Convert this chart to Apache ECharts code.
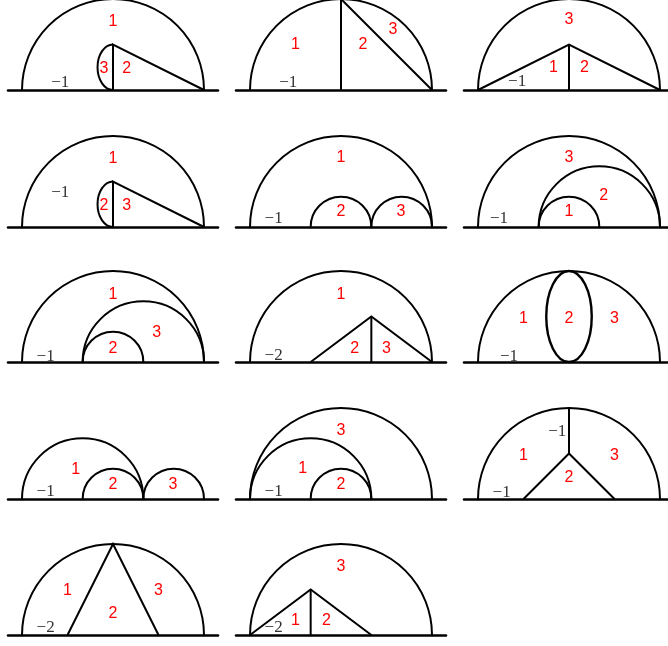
<!DOCTYPE html>
<html><head><meta charset="utf-8">
<script src="https://cdn.jsdelivr.net/npm/echarts@6/dist/echarts.min.js"></script>
<style>html,body{margin:0;padding:0;background:#fff;}#main{width:668px;height:646px;}</style>
</head><body><div id="main"></div>
<script>
// ---- data (unit: radius of the big semicircle = 1, baseline y = 0) ----
// upper semicircles: [panel, centerX, radius]
const semicircles = [
  [0,0,1],[1,0,1],[2,0,1],[3,0,1],
  [4,0,1],[4,0,1/3],[4,2/3,1/3],
  [5,0,1],[5,0,1/3],[5,1/3,2/3],
  [6,0,1],[6,0,1/3],[6,1/3,2/3],
  [7,0,1],[8,0,1],
  [9,-1/3,2/3],[9,0,1/3],[9,2/3,1/3],
  [10,0,1],[10,-1/3,2/3],[10,0,1/3],
  [11,0,1],[12,0,1],[13,0,1]
];
// left half ellipses: [panel, cx, cy, rx, ry]
const halfEllipses = [
  [0,0,0.25,0.17,0.25],
  [3,0,0.25,0.17,0.25]
];
// full ellipses: [panel, cx, cy, rx, ry]
const ellipses = [
  [8,0,0.5,0.25,0.5]
];
// polylines: [panel, points]
const polylines = [
  [0,[[0,0],[0,0.5],[1,0]]],
  [1,[[0,0],[0,1],[1,0]]],
  [2,[[-1,0],[0,0.5],[1,0]]],[2,[[0,0],[0,0.5]]],
  [3,[[0,0],[0,0.5],[1,0]]],
  [7,[[-1/3,0],[1/3,0.5],[1,0]]],[7,[[1/3,0],[1/3,0.5]]],
  [11,[[0,1],[0,0.5]]],[11,[[-0.5,0],[0,0.5],[0.5,0]]],
  [12,[[-0.5,0],[0,1],[0.5,0]]],
  [13,[[-1,0],[-1/3,0.5],[1/3,0]]],[13,[[-1/3,0],[-1/3,0.5]]]
];
// red region labels: [panel, text, x, y]
const regionLabels = [
  [0,'1',0,0.75],[0,'3',-0.1,0.24],[0,'2',0.15,0.24],
  [1,'1',-0.5,0.5],[1,'2',0.24,0.5],[1,'3',0.57,0.66],
  [2,'3',0,0.77],[2,'1',-0.17,0.25],[2,'2',0.17,0.25],
  [3,'1',0,0.75],[3,'2',-0.1,0.24],[3,'3',0.15,0.24],
  [4,'1',0,0.76],[4,'2',0,0.17],[4,'3',0.66,0.17],
  [5,'3',0,0.76],[5,'2',0.38,0.35],[5,'1',0,0.17],
  [6,'1',0,0.74],[6,'3',0.48,0.32],[6,'2',0,0.15],
  [7,'1',0,0.74],[7,'2',0.15,0.15],[7,'3',0.5,0.15],
  [8,'1',-0.5,0.48],[8,'2',0,0.48],[8,'3',0.5,0.48],
  [9,'1',-0.41,0.32],[9,'2',0,0.16],[9,'3',0.66,0.16],
  [10,'3',0,0.75],[10,'1',-0.42,0.33],[10,'2',0,0.16],
  [11,'1',-0.5,0.48],[11,'2',0,0.23],[11,'3',0.5,0.48],
  [12,'1',-0.5,0.49],[12,'2',0,0.24],[12,'3',0.5,0.49],
  [13,'3',0,0.75],[13,'1',-0.5,0.16],[13,'2',-0.16,0.16]
];
// weight labels: [panel, text, x, y]
const weightLabels = [
  [0,'\u22121',-0.58,0.08],[1,'\u22121',-0.58,0.08],[2,'\u22121',-0.57,0.09],
  [3,'\u22121',-0.58,0.38],[4,'\u22121',-0.74,0.09],[5,'\u22121',-0.77,0.09],
  [6,'\u22121',-0.74,0.06],[7,'\u22122',-0.74,0.07],[8,'\u22121',-0.66,0.06],
  [9,'\u22121',-0.74,0.08],[10,'\u22121',-0.74,0.08],
  [11,'\u22121',-0.13,0.74],[11,'\u22121',-0.74,0.07],
  [12,'\u22122',-0.74,0.08],[13,'\u22122',-0.74,0.08]
];

// ---- layout ----
const PANELS = 14;
const colCenters = [113, 341, 569];
const rowBaselines = [90, 227, 362, 499, 635];
const UNIT = 91;
const X_HALF = 1.154;

const chart = echarts.init(document.getElementById('main'), null, {renderer:'canvas'});
const grids = [], xAxes = [], yAxes = [], series = [];
const LINE = {fill:'none', stroke:'#000', lineWidth:2};

for (let p = 0; p < PANELS; p++) {
  const row = Math.floor(p/3), col = p % 3;
  grids.push({left: colCenters[col] - X_HALF*UNIT, top: rowBaselines[row] - UNIT,
              width: 2*X_HALF*UNIT, height: UNIT, containLabel:false, outerBoundsMode:'none'});
  xAxes.push({type:'value', gridIndex:p, min:-X_HALF, max:X_HALF,
    axisLine:{show:true, onZero:false, lineStyle:{color:'#000', width:2.5}},
    axisTick:{show:false}, axisLabel:{show:false}, splitLine:{show:false}});
  yAxes.push({type:'value', gridIndex:p, min:0, max:1, show:false, splitLine:{show:false}});

  const prims = [];
  semicircles.filter(d => d[0]===p).forEach(d => prims.push({k:'semi', cx:d[1], r:d[2], a:[d[1],0]}));
  halfEllipses.filter(d => d[0]===p).forEach(d => prims.push({k:'half', cx:d[1], cy:d[2], rx:d[3], ry:d[4], a:[d[1],d[2]]}));
  ellipses.filter(d => d[0]===p).forEach(d => prims.push({k:'ell', cx:d[1], cy:d[2], rx:d[3], ry:d[4], a:[d[1],d[2]]}));
  polylines.filter(d => d[0]===p).forEach(d => prims.push({k:'poly', pts:d[1], a:d[1][0]}));
  regionLabels.filter(d => d[0]===p).forEach(d => prims.push({k:'rtext', t:d[1], a:[d[2],d[3]]}));
  weightLabels.filter(d => d[0]===p).forEach(d => prims.push({k:'wtext', t:d[1], a:[d[2],d[3]]}));

  series.push({
    type:'custom', xAxisIndex:p, yAxisIndex:p, silent:true, animation:false, clip:false,
    data: prims.map(pr => pr.a),
    renderItem: function(params, api) {
      const pr = prims[params.dataIndex];
      if (pr.k === 'semi') {
        const c = api.coord([pr.cx, 0]);
        const e = api.coord([pr.cx + pr.r, 0]);
        return {type:'arc', shape:{cx:c[0], cy:c[1], r:e[0]-c[0], startAngle:Math.PI, endAngle:2*Math.PI, clockwise:true}, style:LINE};
      }
      if (pr.k === 'half') {
        const b = api.coord([pr.cx, pr.cy - pr.ry]);
        const t = api.coord([pr.cx, pr.cy + pr.ry]);
        const rxp = api.size([pr.rx, 0])[0];
        const ryp = (b[1]-t[1])/2;
        return {type:'path', shape:{pathData:'M '+b[0]+' '+b[1]+' A '+rxp+' '+ryp+' 0 0 1 '+t[0]+' '+t[1]}, style:LINE};
      }
      if (pr.k === 'ell') {
        const c = api.coord([pr.cx, pr.cy]);
        const s = api.size([pr.rx, pr.ry]);
        return {type:'ellipse', shape:{cx:c[0], cy:c[1], rx:s[0], ry:s[1]}, style:{fill:'none', stroke:'#000', lineWidth:2.4}};
      }
      if (pr.k === 'poly') {
        return {type:'polyline', shape:{points: pr.pts.map(q => api.coord(q))}, style:LINE};
      }
      const c = api.coord(pr.a);
      if (pr.k === 'rtext') {
        return {type:'text', x:c[0], y:c[1], style:{text:pr.t, fill:'#ff0000', fontSize:16,
          fontFamily:'"Liberation Sans", Arial, sans-serif', align:'center', verticalAlign:'middle'}};
      }
      return {type:'text', x:c[0], y:c[1], style:{text:pr.t, fill:'#333', fontSize:17,
        fontFamily:'"Liberation Serif", "DejaVu Serif", serif', align:'center', verticalAlign:'middle'}};
    }
  });
}

chart.setOption({animation:false, grid:grids, xAxis:xAxes, yAxis:yAxes, series:series});
</script>
</body></html>
